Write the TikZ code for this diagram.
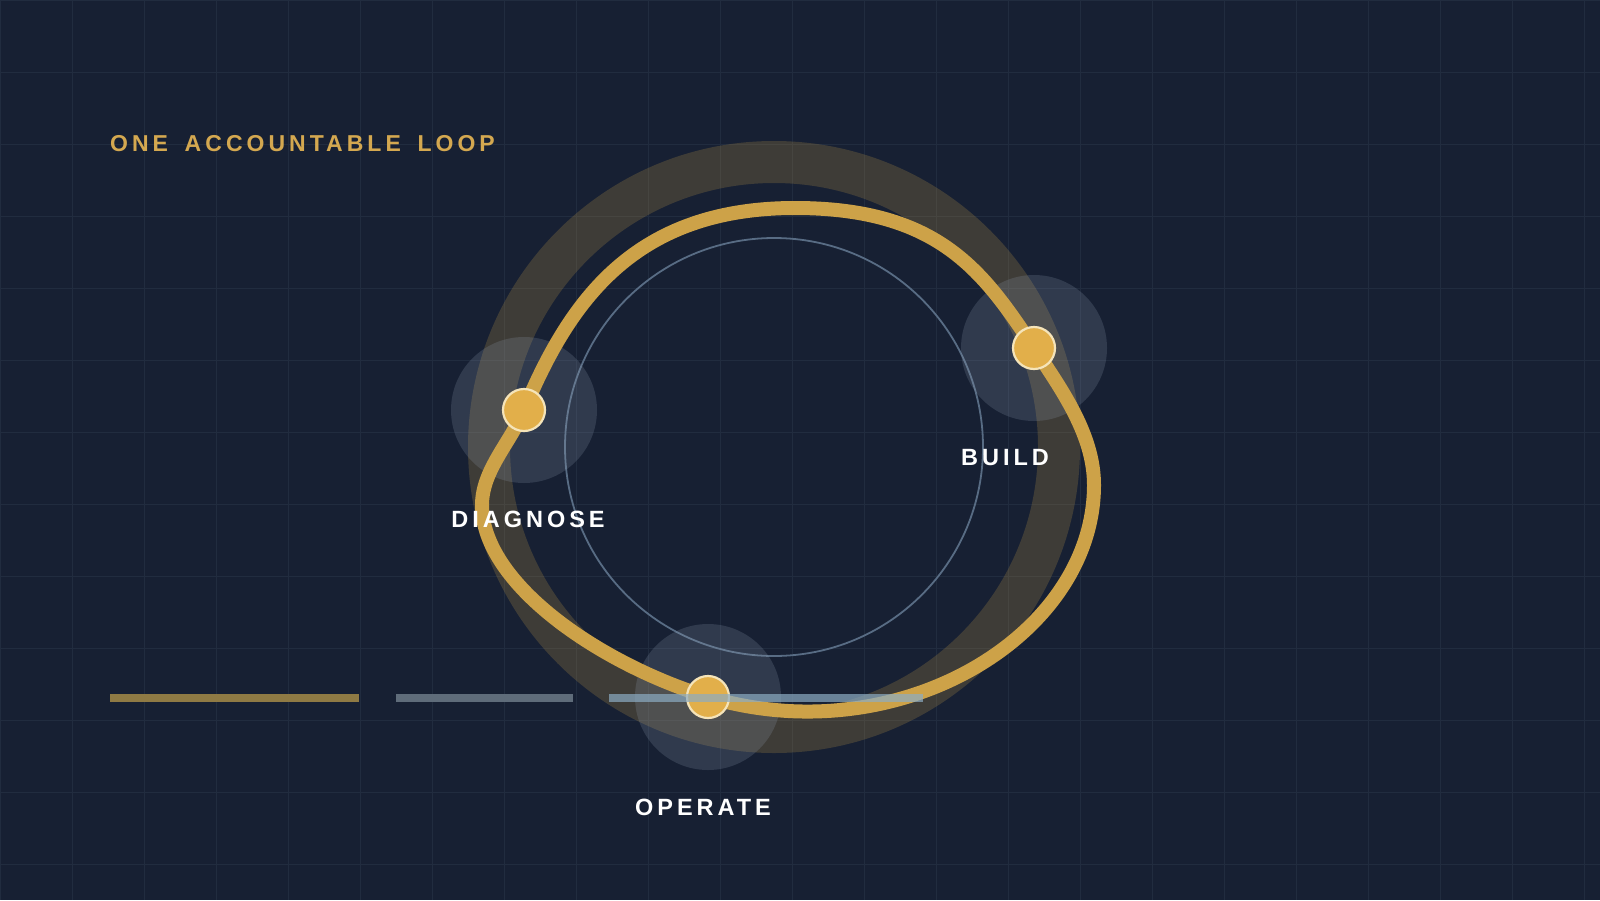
\documentclass[tikz,border=0pt]{standalone}
\usepackage{fontspec}
\setmainfont{Liberation Sans}
\newfontfamily\spacedfont[LetterSpace=17]{Liberation Sans}
\newfontfamily\titlefont[LetterSpace=17.5,WordSpace=1.6]{Liberation Sans}
\usetikzlibrary{positioning,backgrounds}

\definecolor{navy}{RGB}{23,32,51}
\definecolor{gridline}{RGB}{33,44,63}
\definecolor{gold}{RGB}{205,162,72}
\definecolor{titlegold}{RGB}{212,168,80}
\definecolor{dotgold}{RGB}{226,175,74}
\definecolor{cream}{RGB}{245,228,185}
\definecolor{ringblue}{RGB}{88,108,132}
\definecolor{halogray}{RGB}{148,163,184}
\definecolor{bargold}{RGB}{143,122,68}
\definecolor{bargray}{RGB}{95,108,122}
\definecolor{barblue}{RGB}{140,172,195}

\begin{document}
\begin{tikzpicture}[x=1pt,y=-1pt,
        stage/.style={circle,fill=dotgold,draw=cream,line width=2.2pt,minimum size=42pt,inner sep=0pt},% the three stops
        halo/.style={circle,fill=halogray,fill opacity=0.2,minimum size=146pt,inner sep=0pt},
        lbl/.style={text=white,font={\spacedfont\bfseries\fontsize{23.5}{28}\selectfont},inner sep=0pt},
        bar/.style={line width=8pt}]
\useasboundingbox (0,0) rectangle (1600,900);

\begin{scope}[on background layer]
\fill[navy] (0,0) rectangle (1600,900);
\foreach \gx in {0,72,...,1584}{ %vertical grid
\draw[gridline,line width=1pt] (\gx,0) -- (\gx,900);
}
\foreach \gy in {0,72,...,864}{ %horizontal grid
\draw[gridline,line width=1pt] (0,\gy) -- (1600,\gy);
}
\end{scope}

% wide glow ring and thin inner ring
\draw[gold,opacity=0.22,line width=42pt] (774,447) circle[radius=285pt];
\draw[ringblue,line width=1.8pt] (774,447) circle[radius=209pt];

\coordinate (dg) at (524,410);
\coordinate (bd) at (1034,348);
\coordinate (op) at (708,697);

\foreach \st in {dg,bd,op}{
\node[halo] (\st-halo) at (\st) {};
}

% the loop itself
\draw[gold,line width=14pt] (dg) .. controls (570,300) and (635,208) .. (795,208)
  .. controls (940,208) and (984,273) .. (bd)
  .. controls (1062,390) and (1094,435) .. (1094,485)
  .. controls (1094,635) and (900,754) .. (op)
  .. controls (603,665) and (482,585) .. (482,505)
  .. controls (482,470) and (511,442) .. cycle;

\foreach \st in {dg,bd,op}{
\node[stage] (\st-dot) at (\st) {};
}

\draw[bar,bargold] (110,698) -- (359,698);
\draw[bar,bargray] (396,698) -- (573,698);
\draw[bar,barblue,opacity=0.7] (609,698) -- (923,698);

\node[lbl,below=101pt of dg-dot.center,xshift=4pt] (dg-lbl) {DIAGNOSE};
\node[lbl,below=101pt of bd-dot.center,xshift=-29pt] (bd-lbl) {BUILD};
\node[lbl,below=102pt of op-dot.center,xshift=-5pt] (op-lbl) {OPERATE};

\node[anchor=base west,inner sep=0pt,text=titlegold,font={\titlefont\bfseries\fontsize{23}{28}\selectfont}] (title) at (110,151) {ONE ACCOUNTABLE LOOP};

\end{tikzpicture}
\end{document}
